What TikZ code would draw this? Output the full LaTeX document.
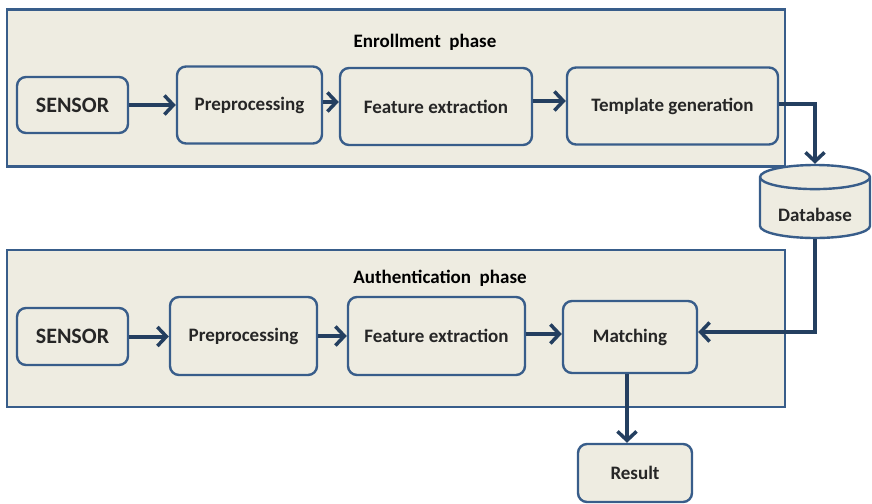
\documentclass[tikz,border=0pt]{standalone}
\usepackage{fontspec}
\setmainfont{Carlito}
\usepackage{tikz}
\usetikzlibrary{arrows.meta, positioning, shapes.geometric}
\definecolor{phasefill}{HTML}{EEECE1}
\definecolor{boxline}{HTML}{385D8A}
\definecolor{flowline}{HTML}{243F60}

\begin{document}
\begin{tikzpicture}[
    x=1pt, y=-1pt,
    phase/.style={rectangle, draw=boxline, fill=phasefill, line width=2.4pt, inner sep=0pt},
    stage/.style={rectangle, rounded corners=9pt, draw=boxline, fill=phasefill, line width=2.4pt, font=\bfseries\fontsize{19}{22}\selectfont, text=black!85, align=center, inner sep=0pt},
    flow/.style={-{Straight Barb[length=9pt, width=19pt, line width=3.5pt]}, draw=flowline, line width=4pt},
    every node/.style={font=\bfseries\fontsize{19}{22}\selectfont}
]
\useasboundingbox (0,0) rectangle (872,503);

% Phases
\node[phase, minimum width=778pt, minimum height=157pt] (enroll) at (396,88) {};
\node[phase, minimum width=778pt, minimum height=157pt] (auth) at (396,328.5) {};
\node at (425,42) {Enrollment\ \ phase};
\node at (440,278) {Authentication\ \ phase};

% Enrollment row
\node[stage, minimum width=111pt, minimum height=56pt, font=\bfseries\fontsize{22}{24}\selectfont] (sensA) at (72.5,105) {SENSOR};
\node[stage, minimum width=145pt, minimum height=77pt] (preA) at (249.5,105) {Preprocessing};
\node[stage, minimum width=192pt, minimum height=77pt] (featA) at (436,106.5) {Feature extraction};
\node[stage, minimum width=211pt, minimum height=77pt] (tmpl) at (672.5,106) {Template generation};

% Database
\node[cylinder, shape border rotate=90, aspect=0.3, anchor=shape center, draw=boxline, fill=phasefill, line width=2.4pt, minimum width=110pt, minimum height=73pt, text=black!85] (db) at (815,201.5) {\raisebox{-11pt}[0pt][0pt]{Database}};

% Authentication row
\node[stage, minimum width=111pt, minimum height=57pt, font=\bfseries\fontsize{22}{24}\selectfont] (sensB) at (72.5,336.5) {SENSOR};
\node[stage, minimum width=147pt, minimum height=78pt] (preB) at (243.5,336) {Preprocessing};
\node[stage, minimum width=177pt, minimum height=78pt] (featB) at (436.5,336) {Feature extraction};
\node[stage, minimum width=134pt, minimum height=72pt] (match) at (630,337) {Matching};
\node[stage, minimum width=114pt, minimum height=58pt] (result) at (635,473) {Result};

% Connections
\draw[flow] (sensA) -- (preA.west |- sensA);
\draw[flow] (preA.east |- 0,102) -- (featA.west |- 0,102);
\draw[flow] (featA.east |- 0,101) -- (tmpl.west |- 0,101);
\draw[flow] (tmpl.east |- 0,104) -| (db.top);
\draw[flow] (sensB) -- (preB.west |- sensB);
\draw[flow] (preB.east |- 0,336) -- (featB.west |- 0,336);
\draw[flow] (featB.east |- 0,334) -- (match.west |- 0,334);
\draw[flow] (db.bottom) |- (match.east |- 0,332);
\draw[flow] (match.south -| 627,0) -- (result.north -| 627,0);

\end{tikzpicture}
\end{document}
